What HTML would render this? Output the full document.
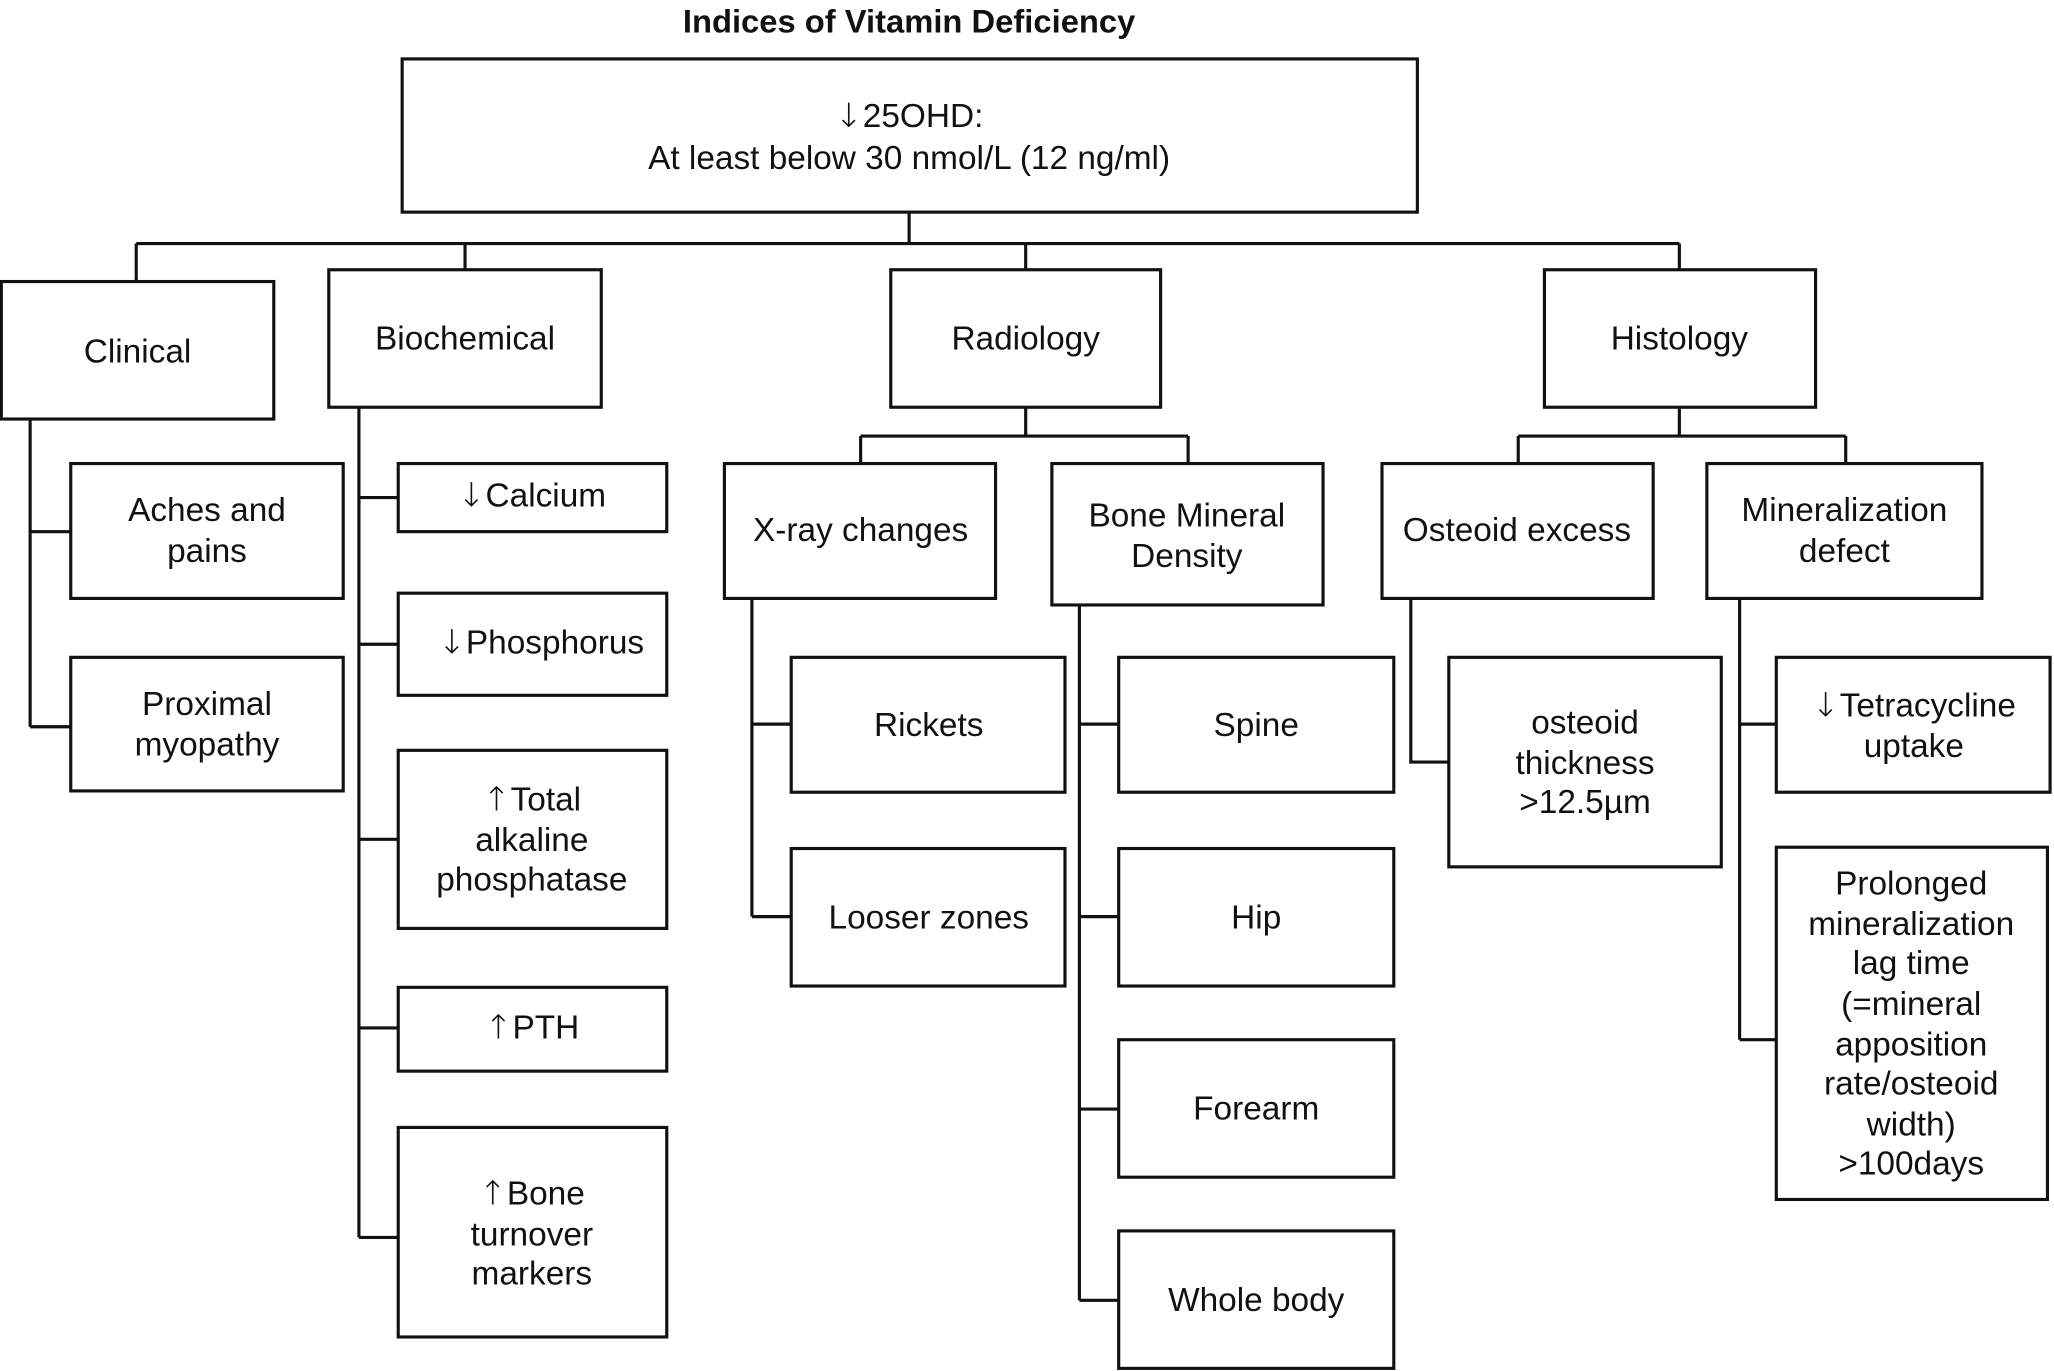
<!DOCTYPE html>
<html><head><meta charset="utf-8"><style>
html,body{margin:0;padding:0;background:#fff;}
svg{display:block;}
text{font-family:"Liberation Sans",Arial,sans-serif;font-size:25.5px;fill:#111;text-anchor:middle;}
.a{font-family:"DejaVu Sans",sans-serif;font-weight:200;}
</style></head><body>
<svg width="2054" height="1371" viewBox="0 0 1568 1047" preserveAspectRatio="none" xmlns="http://www.w3.org/2000/svg">
<g fill="none" stroke="#111" stroke-width="2.4">
<rect x="307" y="45" width="775" height="117"/>
<path d="M694 162V186M104 186H1282M104 186V215M355 186V206M783 186V206M1282 186V206"/>
<rect x="1" y="215" width="208" height="105"/>
<rect x="251" y="206" width="208" height="105"/>
<rect x="680" y="206" width="206" height="105"/>
<rect x="1179" y="206" width="207" height="105"/>
<path d="M23 320V555M23 406H54M23 555H54"/>
<rect x="54" y="354" width="208" height="103"/>
<rect x="54" y="502" width="208" height="102"/>
<path d="M274 311V945M274 380H304M274 492H304M274 641H304M274 785H304M274 945H304"/>
<rect x="304" y="354" width="205" height="52"/>
<rect x="304" y="453" width="205" height="78"/>
<rect x="304" y="573" width="205" height="136"/>
<rect x="304" y="754" width="205" height="64"/>
<rect x="304" y="861" width="205" height="160"/>
<path d="M783 311V333M657 333H907M657 333V354M907 333V354"/>
<rect x="553" y="354" width="207" height="103"/>
<rect x="803" y="354" width="207" height="108"/>
<path d="M574 457V700M574 553H604M574 700H604"/>
<rect x="604" y="502" width="209" height="103"/>
<rect x="604" y="648" width="209" height="105"/>
<path d="M824 462V993M824 553H854M824 700H854M824 847H854M824 993H854"/>
<rect x="854" y="502" width="210" height="103"/>
<rect x="854" y="648" width="210" height="105"/>
<rect x="854" y="794" width="210" height="105"/>
<rect x="854" y="940" width="210" height="105"/>
<path d="M1282 311V333M1159 333H1409M1159 333V354M1409 333V354"/>
<rect x="1055" y="354" width="207" height="103"/>
<rect x="1303" y="354" width="210" height="103"/>
<path d="M1077 457V582H1106"/>
<rect x="1106" y="502" width="208" height="160"/>
<path d="M1328 457V794M1328 553H1356M1328 794H1356"/>
<rect x="1356" y="502" width="209" height="103"/>
<rect x="1356" y="647" width="207" height="269"/>
</g>
<text x="694" y="25" style="font-weight:bold;font-size:25px">Indices of Vitamin Deficiency</text>
<text x="694" y="97"><tspan class="a">↓</tspan>25OHD:</text>
<text x="694" y="129">At least below 30 nmol/L (12 ng/ml)</text>
<text x="105" y="277">Clinical</text>
<text x="355" y="267">Biochemical</text>
<text x="783" y="267">Radiology</text>
<text x="1282" y="267">Histology</text>
<text x="158" y="398">Aches and</text><text x="158" y="429">pains</text>
<text x="158" y="546">Proximal</text><text x="158" y="577">myopathy</text>
<text x="406" y="387"><tspan class="a">↓</tspan>Calcium</text>
<text x="413" y="499"><tspan class="a">↓</tspan>Phosphorus</text>
<text x="406" y="619"><tspan class="a">↑</tspan>Total</text><text x="406" y="650">alkaline</text><text x="406" y="680">phosphatase</text>
<text x="406" y="793"><tspan class="a">↑</tspan>PTH</text>
<text x="406" y="920"><tspan class="a">↑</tspan>Bone</text><text x="406" y="951">turnover</text><text x="406" y="981">markers</text>
<text x="657" y="413">X-ray changes</text>
<text x="906" y="402">Bone Mineral</text><text x="906" y="433">Density</text>
<text x="709" y="562">Rickets</text>
<text x="709" y="709">Looser zones</text>
<text x="959" y="562">Spine</text>
<text x="959" y="709">Hip</text>
<text x="959" y="855">Forearm</text>
<text x="959" y="1001">Whole body</text>
<text x="1158" y="413">Osteoid excess</text>
<text x="1408" y="398">Mineralization</text><text x="1408" y="429">defect</text>
<text x="1210" y="560">osteoid</text><text x="1210" y="591">thickness</text><text x="1210" y="621">&gt;12.5µm</text>
<text x="1461" y="547"><tspan class="a">↓</tspan>Tetracycline</text><text x="1461" y="578">uptake</text>
<text x="1459" y="683">Prolonged</text><text x="1459" y="714">mineralization</text><text x="1459" y="744">lag time</text><text x="1459" y="775">(=mineral</text><text x="1459" y="806">apposition</text><text x="1459" y="836">rate/osteoid</text><text x="1459" y="867">width)</text><text x="1459" y="897">&gt;100days</text>
</svg>
</body></html>
